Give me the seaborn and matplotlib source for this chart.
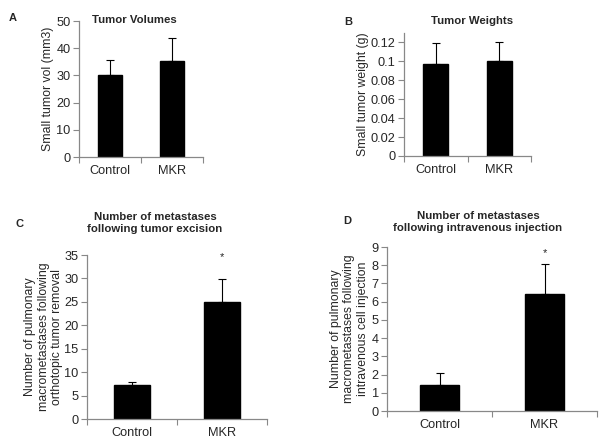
import numpy as np
import pandas as pd
import matplotlib
matplotlib.use('Agg')
import matplotlib.pyplot as plt
import seaborn as sns

groups = ['Control', 'MKR']

vol_mean = [30.3, 35.3]
vol_err = [5.2, 8.6]

wt_mean = [0.097, 0.100]
wt_err = [0.022, 0.021]

exc_mean = [7.3, 25.0]
exc_err = [0.5, 4.8]

iv_mean = [1.4, 6.4]
iv_err = [0.7, 1.65]

sns.set_style('white')
plt.rcParams['font.family'] = ['Liberation Sans', 'DejaVu Sans']

W, H = 600, 442
fig = plt.figure(figsize=(6, 4.42), dpi=100)

def make_ax(left, right, top, bottom):
    return fig.add_axes([left / W, (H - bottom) / H, (right - left) / W, (bottom - top) / H])

def panel(ax, means, errs, ylim, yticks, ylabel, star=None, width=0.4, lpad=2):
    df = pd.DataFrame({'group': groups, 'value': means})
    sns.barplot(data=df, x='group', y='value', color='black', edgecolor='black',
                saturation=1, width=width, ax=ax)
    ax.errorbar([0, 1], means, yerr=[[0, 0], errs], fmt='none', ecolor='black',
                elinewidth=0.8, capsize=3, capthick=0.8)
    ax.set_xlim(-0.5, 1.5)
    ax.set_ylim(*ylim)
    ax.set_yticks(yticks)
    ax.set_yticklabels(['%g' % t for t in yticks], fontsize=9.2)
    ax.set_xticks([-0.5, 0.5, 1.5])
    ax.set_xticklabels([])
    ax.set_xticks([0, 1], minor=True)
    ax.set_xticklabels(groups, minor=True, fontsize=9.2)
    ax.tick_params(axis='x', which='major', length=4, color='#888888', direction='out', bottom=True)
    ax.tick_params(axis='x', which='minor', length=0, pad=6)
    ax.tick_params(axis='y', length=4, color='#888888', direction='out', left=True, pad=2)
    ax.set_xlabel('')
    ax.set_ylabel(ylabel, fontsize=8.8, linespacing=1.15, labelpad=lpad)
    for s in ['top', 'right']:
        ax.spines[s].set_visible(False)
    for s in ['left', 'bottom']:
        ax.spines[s].set_color('#888888')
        ax.spines[s].set_linewidth(0.9)
    if star is not None:
        ax.text(1, star, '*', ha='center', va='center', fontsize=8)
    return ax

axA = make_ax(79, 203, 21, 157)
panel(axA, vol_mean, vol_err, (0, 50), [0, 10, 20, 30, 40, 50],
      'Small tumor vol (mm3)')
fig.text(134 / W, 1 - 20 / H, 'Tumor Volumes', ha='center', va='center',
         fontsize=8.2, fontweight='bold')

axB = make_ax(404, 531, 33, 156)
panel(axB, wt_mean, wt_err, (0, 0.13), [0, 0.02, 0.04, 0.06, 0.08, 0.1, 0.12],
      'Small tumor weight (g)', lpad=1)
fig.text(472 / W, 1 - 21 / H, 'Tumor Weights', ha='center', va='center',
         fontsize=8.2, fontweight='bold')

axC = make_ax(87, 267, 255, 419)
panel(axC, exc_mean, exc_err, (0, 35), [0, 5, 10, 15, 20, 25, 30, 35],
      'Number of pulmonary\nmacrometastases following\northotopic tumor removal',
      star=34.5, width=0.39, lpad=1)
fig.text(155 / W, 1 - 223 / H, 'Number of metastases\nfollowing tumor excision',
         ha='center', va='center', fontsize=8.2, fontweight='bold', linespacing=1.2)

axD = make_ax(387, 597, 247, 411)
panel(axD, iv_mean, iv_err, (0, 9), list(range(10)),
      'Number of pulmonary\nmacrometastases following\nintravenous cell injection',
      star=8.67, width=0.37, lpad=2)
fig.text(478 / W, 1 - 222 / H, 'Number of metastases\nfollowing intravenous injection',
         ha='center', va='center', fontsize=8.2, fontweight='bold', linespacing=1.2)

for lbl, x, y in [('A', 13, 18), ('B', 348, 22), ('C', 20, 224), ('D', 347, 221)]:
    fig.text(x / W, 1 - y / H, lbl, ha='center', va='center', fontsize=8, fontweight='bold')

fig.savefig('out.png', dpi=100)
